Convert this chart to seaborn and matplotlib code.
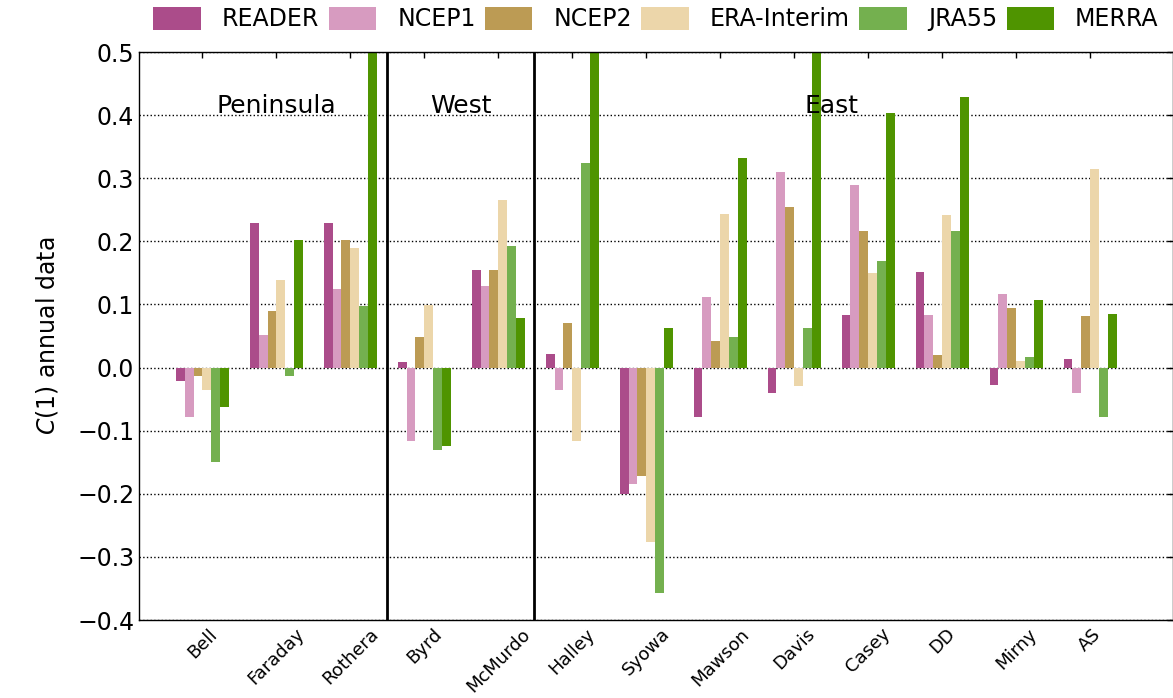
import pandas as pd
import matplotlib
matplotlib.use("Agg")
import matplotlib.pyplot as plt
import seaborn as sns

stations = ["Bell", "Faraday", "Rothera", "Byrd", "McMurdo", "Halley", "Syowa",
            "Mawson", "Davis", "Casey", "DD", "Mirny", "AS"]
datasets = ["READER", "NCEP1", "NCEP2", "ERA-Interim", "JRA55", "MERRA"]

reader = [-0.021, 0.229, 0.229, 0.009, 0.154, 0.022, -0.201, -0.079, -0.040, 0.084, 0.152, -0.027, 0.014]
ncep1 = [-0.079, 0.051, 0.125, -0.117, 0.129, -0.035, -0.185, 0.112, 0.310, 0.290, 0.084, 0.117, -0.041]
ncep2 = [-0.013, 0.090, 0.202, 0.048, 0.155, 0.071, -0.171, 0.042, 0.255, 0.217, 0.020, 0.095, 0.082]
era = [-0.036, 0.139, 0.190, 0.099, 0.266, -0.116, -0.277, 0.244, -0.029, 0.150, 0.242, 0.011, 0.315]
jra55 = [-0.150, -0.013, 0.098, -0.130, 0.193, 0.324, -0.357, 0.049, 0.063, 0.169, 0.217, 0.017, -0.079]
merra = [-0.063, 0.202, 0.560, -0.124, 0.079, 0.560, 0.063, 0.332, 0.560, 0.404, 0.429, 0.107, 0.085]

regions = ["Peninsula", "West", "East"]
region_x = [1.0, 3.5, 8.5]
region_breaks = [2.49, 4.48]

colors = ["#ab4c8a", "#d79bc0", "#bc9b54", "#ecd6aa", "#74b04f", "#4f9400"]

# build long table for seaborn
series = [reader, ncep1, ncep2, era, jra55, merra]
rows = []
for name, vals in zip(datasets, series):
    for st, v in zip(stations, vals):
        rows.append({"Station": st, "Dataset": name, "C1": v})
df = pd.DataFrame(rows)

sns.set_style("white")
plt.rcParams['font.family'] = ['DejaVu Sans']
# black text like the classic matplotlib look
plt.rcParams.update({"text.color": "black", "axes.labelcolor": "black",
                     "xtick.color": "black", "ytick.color": "black"})

fig = plt.figure(figsize=(11.73, 6.98), dpi=100)
ax = fig.add_axes([0.1185, 0.1117, 0.8815, 0.8138])

sns.barplot(data=df, x="Station", y="C1", hue="Dataset", order=stations,
            hue_order=datasets, palette=colors, width=0.72, linewidth=0,
            saturation=1, ax=ax)

ax.set_xlim(-0.857, 13.12)
ax.set_ylim(-0.4, 0.5)
ax.set_yticks([-0.4, -0.3, -0.2, -0.1, 0.0, 0.1, 0.2, 0.3, 0.4, 0.5])
ax.yaxis.grid(True, linestyle=":", color="black", linewidth=1)
ax.set_axisbelow(True)

# region separators and labels
for xb in region_breaks:
    ax.axvline(xb, color="black", linewidth=2)
for name, xr in zip(regions, region_x):
    ax.text(xr, 0.415, name, ha="center", va="center", fontsize=18)

ax.set_xlabel("")
ax.set_ylabel("$C(1)$ annual data", fontsize=17, labelpad=12)
ax.tick_params(axis="y", labelsize=17)
ax.tick_params(axis="x", labelsize=13, labelrotation=45)
ax.tick_params(direction="in", top=True, right=True, length=4, width=1)
for lab in ax.get_xticklabels():
    lab.set_ha("center")

for sp in ax.spines.values():
    sp.set_color("black")
    sp.set_linewidth(1)

handles, labels = ax.get_legend_handles_labels()
ax.legend(handles, labels, loc="lower center", bbox_to_anchor=(0.5, 1.02),
          ncol=6, frameon=False, fontsize=17, columnspacing=0.4,
          handletextpad=0.9, handleheight=1.1, borderaxespad=0.0)

fig.savefig("out.png", dpi=100)
